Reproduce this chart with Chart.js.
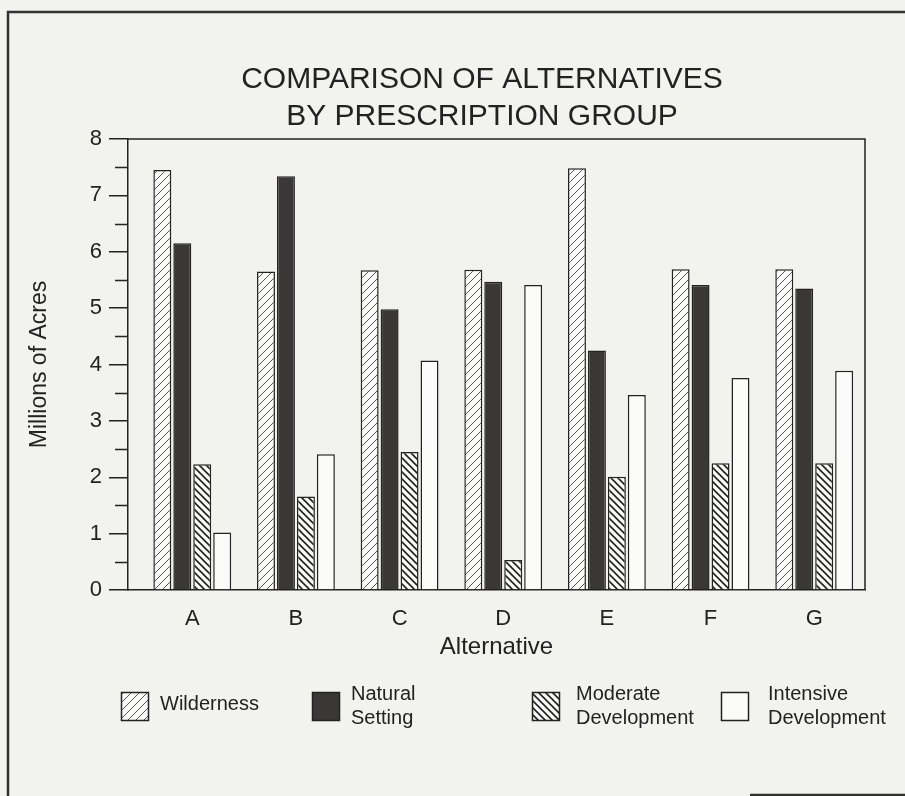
<!DOCTYPE html>
<html>
<head>
<meta charset="utf-8">
<script src="https://cdn.jsdelivr.net/npm/chart.js@4"></script>
<style>
  html, body { margin: 0; padding: 0; background: #f2f2ef; }
  #wrap { width: 905px; height: 796px; position: relative; }
</style>
</head>
<body>
<div id="wrap"><canvas id="chart"></canvas></div>
<script>
// values (millions of acres)
const alternatives = ['A', 'B', 'C', 'D', 'E', 'F', 'G'];
const wilderness = [7.45, 5.65, 5.67, 5.68, 7.48, 5.69, 5.69];
const naturalSetting = [6.15, 7.34, 4.98, 5.47, 4.25, 5.41, 5.35];
const moderateDev = [2.23, 1.66, 2.45, 0.53, 2.01, 2.25, 2.25];
const intensiveDev = [1.02, 2.41, 4.07, 5.41, 3.46, 3.76, 3.89];
const seriesNames = [['Wilderness'], ['Natural', 'Setting'], ['Moderate', 'Development'], ['Intensive', 'Development']];
const yTicks = [0, 1, 2, 3, 4, 5, 6, 7, 8];
const titleLines = ['COMPARISON OF ALTERNATIVES', 'BY PRESCRIPTION GROUP'];

const FONT = 'Liberation Sans, Arial, Helvetica, sans-serif';
const INK = '#222';
Chart.defaults.font.family = FONT;
Chart.defaults.color = INK;

const canvas = document.getElementById('chart');
const mainCtx = canvas.getContext('2d');

// diagonal hatch tile, '/' or '\'
function hatch(dir, bg, fg, lw, size) {
  const c = document.createElement('canvas');
  c.width = size; c.height = size;
  const g = c.getContext('2d');
  g.fillStyle = bg;
  g.fillRect(0, 0, size, size);
  g.strokeStyle = fg;
  g.lineWidth = lw;
  g.beginPath();
  if (dir === '/') {
    g.moveTo(-1, size + 1); g.lineTo(size + 1, -1);
    g.moveTo(-2, 2); g.lineTo(2, -2);
    g.moveTo(size - 2, size + 2); g.lineTo(size + 2, size - 2);
  } else {
    g.moveTo(-1, -1); g.lineTo(size + 1, size + 1);
    g.moveTo(size - 2, -2); g.lineTo(size + 2, 2);
    g.moveTo(-2, size - 2); g.lineTo(2, size + 2);
  }
  g.stroke();
  return mainCtx.createPattern(c, 'repeat');
}

const wildFill = hatch('/', '#f9f9f7', '#555', 1, 8);
const modFill = hatch('\\', '#f9f9f7', '#222', 1.6, 7);

function points(arr) {
  return arr.map((v, i) => ({ x: i, y: v }));
}

const datasets = [
  { label: 'Wilderness', data: points(wilderness), backgroundColor: wildFill },
  { label: 'Natural Setting', data: points(naturalSetting), backgroundColor: '#3a3836' },
  { label: 'Moderate Development', data: points(moderateDev), backgroundColor: modFill },
  { label: 'Intensive Development', data: points(intensiveDev), backgroundColor: '#fbfbfa' }
].map(d => Object.assign(d, { borderColor: INK, borderWidth: 1.5 }));

const decor = {
  id: 'decor',
  beforeDraw(chart) {
    const { ctx, width, height } = chart;
    ctx.save();
    ctx.fillStyle = '#f2f2ef';
    ctx.fillRect(0, 0, width, height);
    ctx.strokeStyle = '#333';
    ctx.lineWidth = 2.5;
    ctx.beginPath();
    ctx.moveTo(8, height); ctx.lineTo(8, 12); ctx.lineTo(width, 12);
    ctx.moveTo(750, 795); ctx.lineTo(width, 795);
    ctx.stroke();
    ctx.restore();
  },
  afterDraw(chart) {
    const { ctx, chartArea: a } = chart;
    const y = chart.scales.y;
    ctx.save();
    ctx.strokeStyle = INK;
    ctx.lineWidth = 1.5;
    // top and right frame of the plot
    ctx.beginPath();
    ctx.moveTo(a.left, a.top); ctx.lineTo(a.right, a.top); ctx.lineTo(a.right, a.bottom);
    // half-unit minor ticks
    for (let i = 0; i < yTicks.length - 1; i++) {
      const py = Math.round(y.getPixelForValue(yTicks[i] + 0.5)) + 0.5;
      ctx.moveTo(a.left - 13, py); ctx.lineTo(a.left, py);
    }
    ctx.stroke();

    // title
    ctx.fillStyle = INK;
    ctx.textAlign = 'center';
    ctx.textBaseline = 'middle';
    ctx.font = '30px ' + FONT;
    ctx.fillText(titleLines[0], 482, 80);
    ctx.fillText(titleLines[1], 482, 117);

    // legend
    const boxX = [121, 312, 532, 721];
    const textX = [160, 351, 576, 768];
    ctx.font = '20px ' + FONT;
    ctx.textAlign = 'left';
    chart.data.datasets.forEach((ds, i) => {
      ctx.fillStyle = ds.backgroundColor;
      ctx.fillRect(boxX[i], 692, 27, 28);
      ctx.strokeRect(boxX[i] + 0.5, 692.5, 27, 28);
      ctx.fillStyle = INK;
      const lines = seriesNames[i];
      if (lines.length === 1) {
        ctx.fillText(lines[0], textX[i], 704);
      } else {
        lines.forEach((t, k) => ctx.fillText(t, textX[i], 694 + k * 24));
      }
    });
    ctx.restore();
  }
};

new Chart(canvas, {
  type: 'bar',
  data: { datasets: datasets },
  plugins: [decor],
  options: {
    responsive: true,
    maintainAspectRatio: false,
    animation: false,
    layout: { padding: { top: 139, right: 40, bottom: 134, left: 0 } },
    datasets: { bar: { categoryPercentage: 0.77, barPercentage: 0.9 } },
    plugins: {
      legend: { display: false },
      title: { display: false },
      tooltip: { enabled: false }
    },
    scales: {
      x: {
        type: 'linear',
        offset: false,
        min: -0.62,
        max: 6.49,
        afterBuildTicks: s => { s.ticks = alternatives.map((_, i) => ({ value: i })); },
        afterFit: s => { s.height = 72; },
        ticks: {
          callback: v => alternatives[v],
          padding: 8,
          maxRotation: 0,
          autoSkip: false,
          font: { size: 22 }
        },
        grid: { display: false, offset: false },
        border: { display: true, color: INK, width: 1.5 },
        title: { display: true, text: 'Alternative', font: { size: 24 }, padding: { top: 4, bottom: 0 } }
      },
      y: {
        min: 0,
        max: 8,
        afterBuildTicks: s => { s.ticks = yTicks.map(v => ({ value: v })); },
        afterFit: s => { s.width = 128; },
        ticks: { padding: 7, font: { size: 22 } },
        grid: { drawOnChartArea: false, tickLength: 19, color: INK, lineWidth: 1.5 },
        border: { color: INK, width: 1.5 },
        title: { display: true, text: 'Millions of Acres', font: { size: 23 }, padding: { top: 26, bottom: 0 } }
      }
    }
  }
});
</script>
</body>
</html>
